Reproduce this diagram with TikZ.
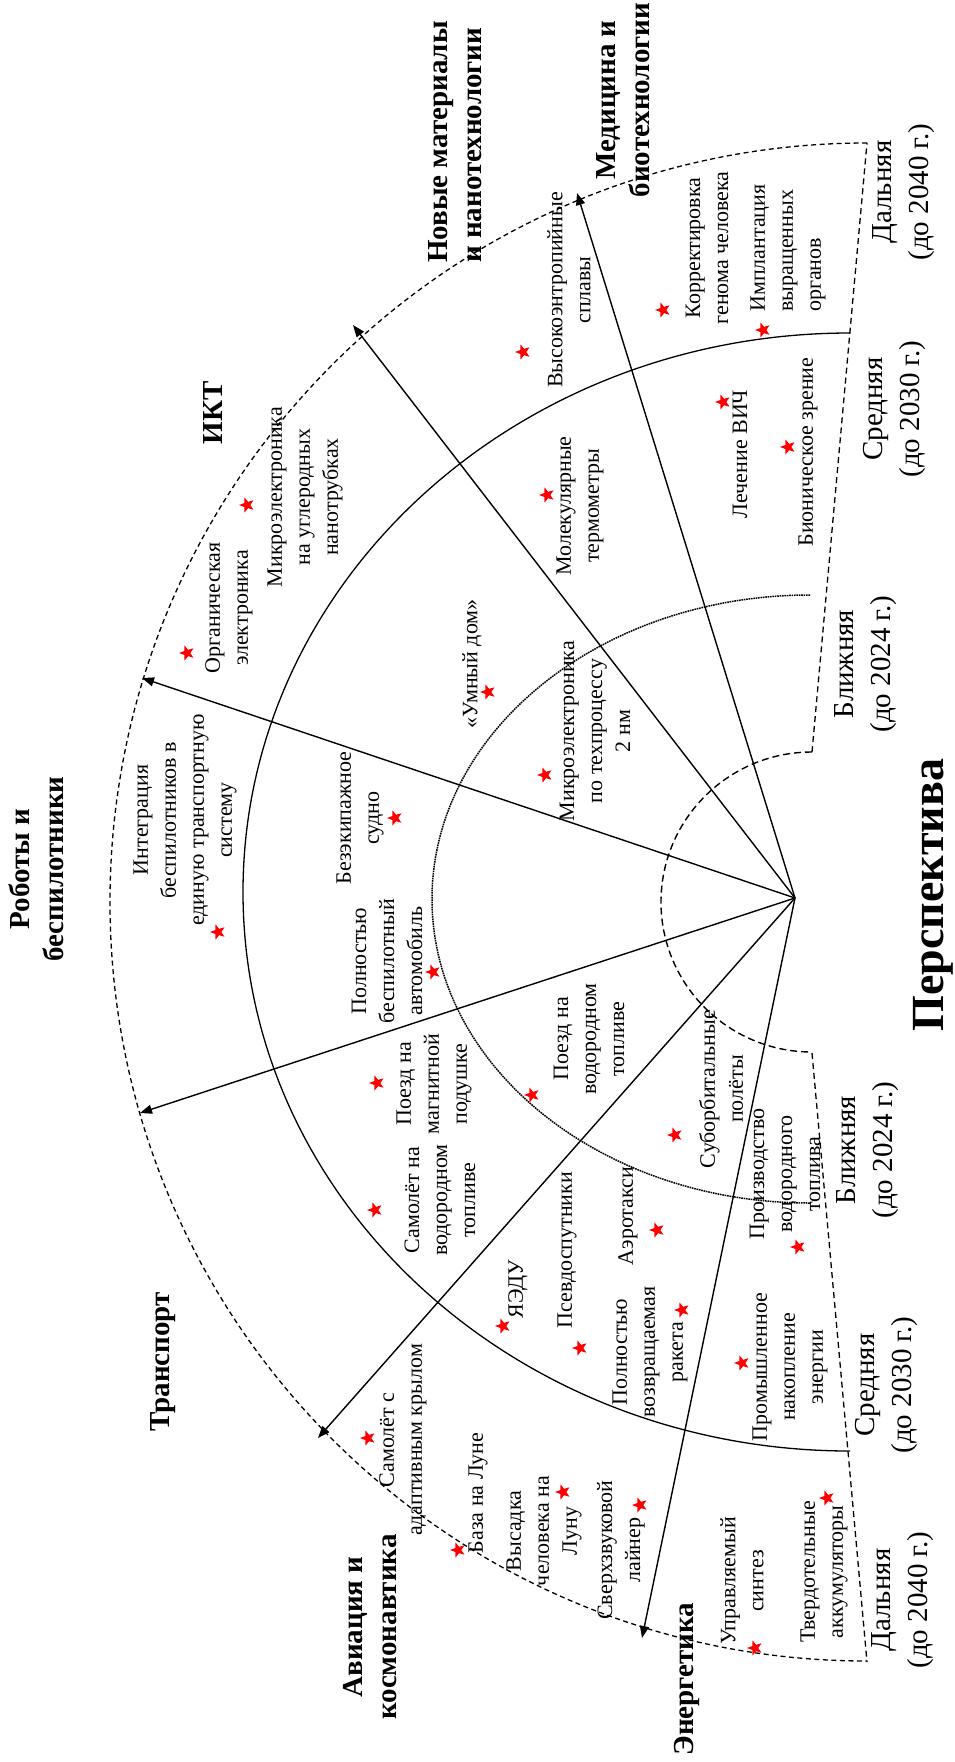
\documentclass[tikz,border=0pt]{standalone}
\usepackage{fontspec}
\setmainfont{Liberation Serif}
\usetikzlibrary{shapes.geometric,arrows.meta}
\tikzset{
 itm/.style={rotate=90, align=center, font=\fontsize{22}{28}\selectfont, inner sep=0pt},
 itml/.style={rotate=90, align=left, font=\fontsize{22}{28}\selectfont, inner sep=0pt},
 cat/.style={rotate=90, align=center, font=\bfseries\fontsize{29}{34}\selectfont, inner sep=0pt},
 catl/.style={rotate=90, align=left, font=\bfseries\fontsize{29}{34}\selectfont, inner sep=0pt},
 hor/.style={rotate=90, align=center, font=\fontsize{29}{37}\selectfont, inner sep=0pt},
 st/.style={star, star points=5, star point ratio=2.4, fill=red, draw=none, minimum size=16pt, inner sep=0pt, rotate=90},
 arr/.style={line width=1.4pt, -{Triangle[length=12pt,width=9pt]}},
 outerarc/.style={line width=1.3pt, dash pattern=on 5pt off 3.5pt},
 midarc/.style={line width=1.3pt},
 dotarc/.style={line width=1.5pt, dash pattern=on 1.6pt off 0.8pt},
 innarc/.style={line width=1.4pt, dash pattern=on 7pt off 4pt},
 bound/.style={line width=1.3pt, dash pattern=on 6pt off 4pt},
}
\begin{document}
\begin{tikzpicture}[x=1pt,y=1pt]
\useasboundingbox (0,0) rectangle (955,-1762);
% arcs
\draw[outerarc] (867,-143) arc[start angle=90, end angle=270, x radius=757pt, y radius=759pt];
\draw[midarc] (850,-333) arc[start angle=90, end angle=270, x radius=607pt, y radius=559pt];
\draw[dotarc] (810,-595) arc[start angle=90, end angle=270, x radius=378pt, y radius=304pt];
\draw[innarc] (812,-752) arc[start angle=90, end angle=270, x radius=151pt, y radius=150pt];
% right boundaries
\draw[bound] (812,-752) -- (867,-143);
\draw[bound] (812,-1053) -- (867,-1662);
% arrows
\coordinate (C) at (795,-898);
\coordinate (tNM) at (353,-325);
\coordinate (tMed) at (577,-193);
\coordinate (tIKT) at (142,-678);
\coordinate (tRob) at (140,-1113);
\coordinate (tAv) at (318,-1438);
\coordinate (tEn) at (642,-1638);
\draw[arr] (C) -- (tNM);
\draw[arr] (C) -- (tMed);
\draw[arr] (C) -- (tIKT);
\draw[arr] (C) -- (tRob);
\draw[arr] (C) -- (tAv);
\draw[arr] (C) -- (tEn);
% categories
\node[catl, anchor=west] (cNM) at (455,-263) {Новые материалы\\и нанотехнологии};
\node[cat] (cMed) at (623,-100) {Медицина и\\биотехнологии};
\node[cat] (cIKT) at (213,-413) {ИКТ};
\node[cat] (cRob) at (36,-869) {Роботы и\\беспилотники};
\node[cat] (cTr) at (163,-1362) {Транспорт};
\node[cat] (cAv) at (370,-1627) {Авиация и\\космонавтика};
\node[cat] (cEn) at (687,-1679) {Энергетика};
\node[rotate=90, inner sep=0pt, font=\bfseries\fontsize{46}{50}\selectfont] (persp) at (933,-895) {Перспектива};
% horizons
\node[hor] (h1) at (904,-192) {Дальняя\\(до 2040 г.)};
\node[hor] (h2) at (894,-409) {Средняя\\(до 2030 г.)};
\node[hor] (h3) at (866,-664) {Ближняя\\(до 2024 г.)};
\node[hor] (h4) at (868,-1150) {Ближняя\\(до 2024 г.)};
\node[hor] (h5) at (886,-1385) {Средняя\\(до 2030 г.)};
\node[hor] (h6) at (903,-1600) {Дальняя\\(до 2040 г.)};
% items
\node[itm] (i1) at (569,-290) {Высокоэнтропийные\\сплавы};
\node[itm] (i2) at (707,-248) {Корректировка\\генома человека};
\node[itml, anchor=west] (i3) at (788,-312) {Имплантация\\выращенных\\органов};
\node[itm] (i4) at (740,-454) {Лечение ВИЧ};
\node[itm] (i5) at (808,-452) {Бионическое зрение};
\node[itm] (i6) at (580,-506) {Молекулярные\\термометры};
\node[itm] (i7) at (595,-731) {Микроэлектроника\\по техпроцессу\\2 нм};
\node[itm] (i8) at (472,-664) {«Умный дом»};
\node[itm] (i9) at (229,-608) {Органическая\\электроника};
\node[itm] (i10) at (305,-497) {Микроэлектроника\\на углеродных\\нанотрубках};
\node[itm] (i11) at (185,-820) {Интеграция\\беспилотников в\\единую транспортную\\систему};
\node[itm] (i12) at (360,-818) {Безэкипажное\\судно};
\node[itm] (i13) at (387,-961) {Полностью\\беспилотный\\автомобиль};
\node[itm] (i14) at (434,-1084) {Поезд на\\магнитной\\подушке};
\node[itm] (i15) at (440,-1200) {Самолёт на\\водородном\\топливе};
\node[itm] (i16) at (589,-1039) {Поезд на\\водородном\\топливе};
\node[itm] (i17) at (721,-1089) {Суборбитальные\\полёты};
\node[itm] (i18) at (785,-1174) {Производство\\водородного\\топлива};
\node[itm] (i19) at (628,-1216) {Аэротакси};
\node[itm] (i20) at (567,-1250) {Псевдоспутники};
\node[itm] (i21) at (518,-1289) {ЯЭДУ};
\node[itm] (i22) at (650,-1352) {Полностью\\возвращаемая\\ракета};
\node[itm] (i23) at (790,-1367) {Промышленное\\накопление\\энергии};
\node[itm] (i24) at (403,-1440) {Самолёт с\\адаптивным крылом};
\node[itm] (i25) at (478,-1493) {База на Луне};
\node[itm] (i26) at (544,-1531) {Высадка\\человека на\\Луну};
\node[itm] (i27) at (621,-1550) {Сверхзвуковой\\лайнер};
\node[itm] (i28) at (742,-1581) {Управляемый\\синтез};
\node[itm] (i29) at (824,-1572) {Твердотельные\\аккумуляторы};
% stars
\node[st] (s1) at (523,-352) {};
\node[st] (s2) at (663,-310) {};
\node[st] (s3) at (763,-330) {};
\node[st] (s4) at (723,-402) {};
\node[st] (s5) at (788,-447) {};
\node[st] (s6) at (547,-495) {};
\node[st] (s7) at (545,-775) {};
\node[st] (s8) at (488,-692) {};
\node[st] (s9) at (187,-653) {};
\node[st] (s10) at (247,-505) {};
\node[st] (s11) at (218,-932) {};
\node[st] (s12) at (395,-818) {};
\node[st] (s13) at (433,-972) {};
\node[st] (s14) at (377,-1083) {};
\node[st] (s15) at (375,-1210) {};
\node[st] (s16) at (532,-1095) {};
\node[st] (s17) at (675,-1135) {};
\node[st] (s18) at (798,-1247) {};
\node[st] (s19) at (657,-1230) {};
\node[st] (s20) at (503,-1326) {};
\node[st] (s21) at (580,-1348) {};
\node[st] (s22) at (682,-1310) {};
\node[st] (s23) at (742,-1363) {};
\node[st] (s24) at (368,-1438) {};
\node[st] (s25) at (458,-1550) {};
\node[st] (s26) at (563,-1492) {};
\node[st] (s27) at (640,-1505) {};
\node[st] (s28) at (755,-1648) {};
\node[st] (s29) at (827,-1498) {};
\end{tikzpicture}
\end{document}
